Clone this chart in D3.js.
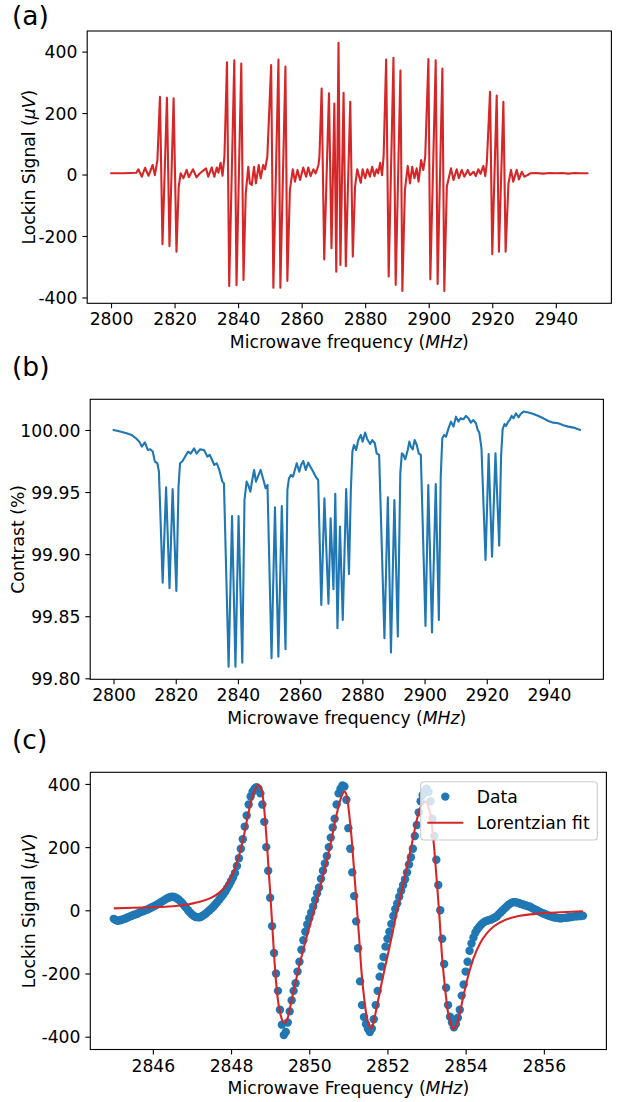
<!DOCTYPE html>
<html><head><meta charset="utf-8">
<script src="https://cdn.jsdelivr.net/npm/d3@7"></script>
<style>
body{margin:0;background:#fff}
svg{display:block}
text{font-family:"DejaVu Sans",sans-serif;fill:#000}
</style>
</head><body>
<svg id="fig" width="618" height="1102"></svg>
<script>
// ---------------- DATA ----------------
// Panel (a): lock-in signal (µV) vs microwave frequency (MHz)
const aSignal = [
 [2800,4],[2802,4],[2804,4],[2806,5],[2808,6],[2808.6,17],[2809.7,-7],[2810.7,22],[2811.8,-4],[2813.1,31],[2813.8,-2],[2814.6,47],
 [2815.4,253],[2816.2,-227],[2817.6,250],[2818.4,-233],[2819.7,248],[2820.6,-251],[2821.3,-40],[2821.9,4],[2822.8,-12],[2823.8,15],
 [2824.5,-9],[2825.8,17],[2826.9,-9],[2828,4],[2829.9,20],[2830.6,-7],[2831.7,23],[2832.5,-7],[2833.3,23],[2833.8,6],[2834.5,38],
 [2835.1,-4],[2835.7,58],[2836.5,365],[2837.2,-363],[2838.8,372],[2839.5,-360],[2841.0,361],[2841.7,-343],[2842.4,-62],[2843.2,25],
 [2843.7,-29],[2844.3,-34],[2845,25],[2845.6,-29],[2846.5,31],[2847.1,-12],[2847.9,31],[2848.5,17],[2849.2,58],[2850.4,356],
 [2851.1,-368],[2852.7,374],[2853.3,-368],[2854.9,351],[2855.5,-346],[2856.3,-51],[2857.2,17],[2857.9,-23],[2858.7,15],[2859.5,-18],
 [2860.5,23],[2861.4,-7],[2862.1,23],[2862.8,-5],[2863.7,17],[2864.4,4],[2865.3,31],[2865.6,58],[2866.3,280],[2867.1,-276],
 [2868.6,264],[2869.4,-240],[2870.3,231],[2870.9,-316],[2871.6,429],[2872.2,-294],[2873.2,266],[2873.9,-298],[2875.3,237],[2876.1,-267],
 [2876.8,-40],[2877.5,17],[2878.6,-27],[2879.2,17],[2880,-12],[2880.7,17],[2881.5,-7],[2882.2,25],[2882.9,-5],[2883.6,17],[2884.1,4],
 [2884.7,38],[2885.3,-2],[2885.8,58],[2886.6,374],[2887.4,-332],[2888.9,380],[2889.6,-359],[2891.1,338],[2891.7,-379],[2892.5,-51],
 [2893.4,28],[2894.1,-29],[2894.8,25],[2895.5,-12],[2896.2,20],[2896.8,-23],[2897.6,47],[2898.3,15],[2898.9,58],[2899.9,376],
 [2900.5,-341],[2902.2,372],[2902.8,-356],[2904.3,345],[2904.9,-379],[2905.7,-40],[2906.4,-7],[2907,20],[2907.8,-18],[2908.8,17],
 [2909.5,-12],[2910.4,15],[2911.2,-7],[2912.3,15],[2913,-2],[2914.1,9],[2914.8,-5],[2915.6,17],[2916.3,2],[2917.2,28],[2917.8,-5],
 [2918.3,40],[2919.3,269],[2920,-259],[2921.4,257],[2922.1,-251],[2923.5,237],[2924.2,-251],[2925.1,-29],[2925.9,15],[2926.6,-23],
 [2927.7,15],[2928.4,-16],[2929.3,9],[2930.1,-7],[2931.1,-2],[2931.9,4],[2934,5],[2936,3],[2938,5],[2940,4],[2942,5],[2944,3],
 [2946,5],[2948,4],[2950,4]
];

// Panel (b): ODMR contrast (%) vs microwave frequency (MHz)
const bContrast = [
 [2800,100.000],[2802.1,99.9987],[2804.2,99.9973],[2805.8,99.996],[2807.2,99.9933],[2808.3,99.9906],[2809.1,99.9866],[2810.1,99.990],
 [2811,99.9839],[2811.8,99.9845],[2812.6,99.9826],[2813.3,99.9745],[2814.1,99.9732],[2814.6,99.9664],[2815.8,99.877],[2816.9,99.9538],
 [2818,99.8725],[2819,99.9525],[2820.2,99.8703],[2820.9,99.955],[2821.4,99.9732],[2822.2,99.975],[2823,99.9785],[2824,99.9826],
 [2824.8,99.981],[2825.9,99.9852],[2826.7,99.981],[2827.8,99.9844],[2829.1,99.9839],[2830.2,99.9785],[2830.9,99.980],[2831.6,99.9764],
 [2832.4,99.9718],[2833.2,99.9732],[2834,99.9678],[2835,99.9584],[2835.5,99.957],[2837,99.8094],[2838.1,99.9307],[2839.2,99.8094],
 [2840.2,99.9307],[2841.4,99.8126],[2842.1,99.9436],[2842.8,99.9584],[2843.4,99.955],[2844,99.9503],[2844.6,99.9597],[2845.2,99.9678],
 [2845.8,99.9584],[2846.5,99.963],[2847.3,99.9678],[2848.2,99.9597],[2848.9,99.953],[2849.5,99.9557],[2850.8,99.8161],[2851.9,99.9377],
 [2853,99.8174],[2854.1,99.9388],[2855.3,99.8234],[2855.9,99.9517],[2856.4,99.961],[2857.1,99.9638],[2857.7,99.9624],[2858.3,99.9678],
 [2858.9,99.9732],[2859.7,99.9664],[2860.3,99.9718],[2861,99.975],[2861.8,99.9678],[2862.6,99.9737],[2863.4,99.970],[2864.2,99.9664],
 [2865.1,99.9619],[2865.8,99.9597],[2866.8,99.859],[2867.8,99.945],[2869.1,99.860],[2869.8,99.9289],[2870.7,99.8717],[2871.3,99.9485],
 [2872,99.8403],[2872.8,99.9222],[2873.7,99.847],[2874.8,99.9525],[2875.7,99.884],[2876.3,99.9517],[2876.8,99.9826],[2877.3,99.9879],
 [2878,99.9839],[2878.7,99.9919],[2879.5,99.996],[2880.1,99.9906],[2880.9,99.9979],[2881.6,99.9925],[2882.5,99.9887],[2883.2,99.9919],
 [2884,99.9893],[2884.6,99.9812],[2885.4,99.9799],[2887.1,99.8322],[2888.2,99.9458],[2889.2,99.8209],[2890.3,99.9436],[2891.4,99.8336],
 [2892.2,99.9651],[2892.7,99.9812],[2893.2,99.980],[2893.8,99.9764],[2894.6,99.9839],[2895.1,99.9906],[2895.6,99.9866],[2896.2,99.9844],
 [2896.8,99.9919],[2897.5,99.9879],[2898.1,99.9812],[2898.8,99.9799],[2900.3,99.8421],[2901.2,99.9557],[2902.4,99.837],[2903.6,99.9565],
 [2904.6,99.847],[2905.2,99.9624],[2905.7,99.9933],[2906.3,99.996],[2906.9,99.9946],[2907.7,100.0013],[2908.5,100.0067],[2909.3,100.0027],
 [2910.1,100.0107],[2910.9,100.0067],[2911.6,100.0094],[2912.5,100.0086],[2913.3,100.0113],[2914.1,100.0094],[2914.9,100.0059],
 [2915.7,100.008],[2916.5,100.0054],[2917.1,100],[2917.6,99.9979],[2918.3,99.9852],[2919.6,99.8953],[2920.6,99.9807],[2921.7,99.898],
 [2922.8,99.9812],[2924,99.9068],[2924.6,99.9785],[2925.1,100.0005],[2925.7,100.0048],[2926.2,100.0032],[2926.9,100.0067],
 [2927.5,100.0086],[2928,100.0113],[2928.6,100.0094],[2929.4,100.0134],[2930.2,100.0102],[2930.9,100.0129],[2931.8,100.0148],
 [2933.4,100.014],[2935,100.0129],[2936.6,100.0113],[2938.2,100.0094],[2939.8,100.0072],[2941.4,100.0059],[2943,100.0054],
 [2944.6,100.0038],[2946.2,100.0027],[2947.9,100.0019],[2950,100.000]
];

// Panel (c): measured lock-in signal, sampled every 0.05 MHz from 2845 MHz
const cStartFreq = 2845, cFreqStep = 0.05;
const cData = [
 -27,-31,-33,-32,-30,-28,-26,-23,-20,-18,
 -15,-13,-11,-8,-5,-3,0,2,5,8,
 11,14,18,21,25,29,33,37,40,42,
 43,42,39,35,29,23,15,8,0,-7,
 -13,-18,-21,-22,-22,-19,-15,-11,-5,0,
 6,12,19,26,34,42,50,59,70,80,
 92,104,118,140,165,195,225,265,300,335,
 360,375,385,390,385,370,335,280,200,125,
 40,-50,-135,-200,-255,-315,-362,-395,-385,-355,
 -320,-285,-255,-231,-194,-163,-125,-95,-68,-45,
 -25,-7,12,33,54,72,100,125,148,172,
 200,230,262,290,335,370,385,395,392,350,
 260,195,120,45,-35,-120,-225,-300,-338,-360,
 -375,-385,-374,-345,-300,-255,-210,-178,-148,-115,
 -90,-68,-43,-18,4,22,43,62,80,98,
 120,145,168,195,235,270,310,345,365,378,
 385,375,345,290,235,160,80,0,-90,-170,
 -245,-300,-337,-355,-370,-360,-340,-315,-270,-235,
 -194,-163,-128,-105,-86,-70,-60,-52,-45,-39,
 -35,-33,-31,-29,-26,-23,-19,-12,-6,0,
 6,12,18,22,25,26,25,23,21,19,
 17,15,13,11,7,4,1,-2,-5,-8,
 -11,-13,-16,-18,-20,-22,-23,-24,-25,-25,
 -24,-24,-23,-22,-21,-20,-19,-19,-18,-18,
 -17
];
// Panel (c): Lorentzian fit curve
const cFit = [
 [2845.0,6],[2845.5,8],[2846.0,9.5],[2846.4,12],[2846.8,17],[2847.2,27],[2847.5,40],[2847.7,56],[2847.85,75],[2848.0,104],
 [2848.15,150],[2848.3,220],[2848.4,281],[2848.5,338],[2848.6,378],[2848.7,396],[2848.75,392],[2848.8,370],[2848.85,318],
 [2848.9,240],[2848.95,150],[2849.0,58],[2849.05,-40],[2849.1,-140],[2849.15,-225],[2849.2,-285],[2849.25,-322],[2849.3,-345],
 [2849.37,-356],[2849.44,-344],[2849.52,-302],[2849.63,-238],[2849.76,-168],[2849.89,-104],[2850.02,-46],[2850.15,12],
 [2850.27,70],[2850.4,133],[2850.53,201],[2850.65,275],[2850.77,339],[2850.85,368],[2850.9,376],[2850.96,362],[2851.02,307],
 [2851.08,233],[2851.14,138],[2851.21,22],[2851.28,-94],[2851.34,-200],[2851.41,-284],[2851.47,-337],[2851.54,-368],
 [2851.58,-374],[2851.64,-358],[2851.72,-310],[2851.85,-231],[2851.98,-157],[2852.11,-83],[2852.23,-10],[2852.36,59],
 [2852.49,133],[2852.62,207],[2852.73,275],[2852.83,322],[2852.92,340],[2852.98,344],[2853.05,328],[2853.13,275],[2853.2,190],
 [2853.26,96],[2853.33,-20],[2853.39,-136],[2853.47,-242],[2853.54,-316],[2853.62,-358],[2853.68,-376],[2853.75,-368],
 [2853.84,-331],[2853.94,-273],[2854.07,-205],[2854.2,-152],[2854.37,-104],[2854.54,-73],[2854.71,-52],[2854.88,-38],
 [2855.13,-25],[2855.39,-17],[2855.73,-12],[2856.07,-8.5],[2856.58,-5.4],[2857.0,-3]
];

// Tick labels
const abFreqTicks = [2800,2820,2840,2860,2880,2900,2920,2940];
const aSignalTicks = [-400,-200,0,200,400];
const bContrastTicks = [99.80,99.85,99.90,99.95,100.00];
const cFreqTicks = [2846,2848,2850,2852,2854,2856];
const cSignalTicks = [-400,-200,0,200,400];
const legendLabels = ["Data","Lorentzian fit"];

// ---------------- DRAW ----------------
const svg = d3.select("#fig");
const FS = 17.2, TICK = 4.9, PAD = 4.9, SPINE = 1.1;
const RED = "#d62728", BLUE = "#1f77b4";

function frame(box, xs, ys, xt, yt, yfmt, xlabel, ylabel, ylabX, tag) {
  const g = svg.append("g");
  const xa = d3.axisBottom(xs).tickValues(xt).tickSize(TICK).tickPadding(PAD).tickFormat(d => String(d));
  const ya = d3.axisLeft(ys).tickValues(yt).tickSize(TICK).tickPadding(PAD).tickFormat(yfmt);
  const gx = g.append("g").attr("transform", `translate(0,${box.b})`).call(xa);
  const gy = g.append("g").attr("transform", `translate(${box.l},0)`).call(ya);
  [gx, gy].forEach(a => {
    a.select(".domain").remove();
    a.selectAll(".tick line").attr("stroke", "#000").attr("stroke-width", SPINE);
    a.selectAll(".tick text").attr("font-size", FS).attr("font-family", "DejaVu Sans").attr("fill", "#000");
  });
  gy.selectAll(".tick text").attr("dy", "0.36em");
  const xl = g.append("text").attr("x", (box.l + box.r) / 2).attr("y", box.b + 44.5)
    .attr("text-anchor", "middle").attr("font-size", FS);
  xl.append("tspan").text(xlabel[0]);
  xl.append("tspan").attr("font-style", "italic").text(xlabel[1]);
  xl.append("tspan").text(xlabel[2]);
  const yl = g.append("text").attr("transform", `translate(${ylabX},${(box.t + box.b) / 2}) rotate(-90)`)
    .attr("text-anchor", "middle").attr("font-size", FS);
  yl.append("tspan").text(ylabel[0]);
  if (ylabel[1]) yl.append("tspan").attr("font-style", "italic").text(ylabel[1]);
  if (ylabel[2]) yl.append("tspan").text(ylabel[2]);
  svg.append("text").attr("x", 12).attr("y", tag.y).attr("font-size", 26.5).text(tag.t);
  return g;
}
function spines(box) {
  svg.append("rect").attr("x", box.l).attr("y", box.t).attr("width", box.r - box.l).attr("height", box.b - box.t)
    .attr("fill", "none").attr("stroke", "#000").attr("stroke-width", SPINE);
}

// ---- Panel (a)
const boxA = {l: 87.2, r: 611.4, t: 31, b: 303.3};
const xA = d3.scaleLinear().domain([2792.5, 2957.5]).range([boxA.l, boxA.r]);
const yA = d3.scaleLinear().domain([-419, 467]).range([boxA.b, boxA.t]);
frame(boxA, xA, yA, abFreqTicks, aSignalTicks, d => String(d),
  ["Microwave frequency (", "MHz", ")"], ["Lockin Signal (", "\u03bcV", ")"], 34.6, {t: "(a)", y: 25});
svg.append("path").datum(aSignal)
  .attr("d", d3.line().x(d => xA(d[0])).y(d => yA(d[1])))
  .attr("fill", "none").attr("stroke", RED).attr("stroke-width", 2.1).attr("stroke-linejoin", "round").attr("stroke-linecap", "round");
spines(boxA);

// ---- Panel (b)
const boxB = {l: 90.2, r: 603.4, t: 399.3, b: 679.3};
const xB = d3.scaleLinear().domain([2792.5, 2957.5]).range([boxB.l, boxB.r]);
const yB = d3.scaleLinear().domain([99.7992, 100.0247]).range([boxB.b, boxB.t]);
frame(boxB, xB, yB, abFreqTicks, bContrastTicks, d3.format(".2f"),
  ["Microwave frequency (", "MHz", ")"], ["Contrast (%)"], 23.8, {t: "(b)", y: 375.5});
svg.append("path").datum(bContrast)
  .attr("d", d3.line().x(d => xB(d[0])).y(d => yB(d[1])))
  .attr("fill", "none").attr("stroke", BLUE).attr("stroke-width", 2.1).attr("stroke-linejoin", "round").attr("stroke-linecap", "round");
spines(boxB);

// ---- Panel (c)
const boxC = {l: 90.3, r: 606.4, t: 772.3, b: 1049.5};
const xC = d3.scaleLinear().domain([2844.4, 2857.6]).range([boxC.l, boxC.r]);
const yC = d3.scaleLinear().domain([-440.6, 436.8]).range([boxC.b, boxC.t]);
frame(boxC, xC, yC, cFreqTicks, cSignalTicks, d => String(d),
  ["Microwave Frequency (", "MHz", ")"], ["Lockin Signal (", "\u03bcV", ")"], 35.2, {t: "(c)", y: 749});
const cPoints = cData.map((v, i) => [cStartFreq + i * cFreqStep, v]);
svg.append("g").selectAll("circle").data(cPoints).join("circle")
  .attr("cx", d => xC(d[0])).attr("cy", d => yC(d[1])).attr("r", 4.2).attr("fill", BLUE);
svg.append("path").datum(cFit)
  .attr("d", d3.line().curve(d3.curveMonotoneX).x(d => xC(d[0])).y(d => yC(d[1])))
  .attr("fill", "none").attr("stroke", RED).attr("stroke-width", 2.1).attr("stroke-linejoin", "round");
const lg = svg.append("g");
lg.append("rect").attr("x", 420.7).attr("y", 781.7).attr("width", 176.6).attr("height", 58.3).attr("rx", 3)
  .attr("fill", "#fff").attr("fill-opacity", 0.8).attr("stroke", "#cccccc").attr("stroke-width", 1.1);
lg.append("circle").attr("cx", 445.3).attr("cy", 796.6).attr("r", 4.2).attr("fill", BLUE);
lg.append("line").attr("x1", 427.3).attr("x2", 463.3).attr("y1", 822.8).attr("y2", 822.8).attr("stroke", RED).attr("stroke-width", 2.1);
lg.selectAll("text.lab").data(legendLabels).join("text").attr("class", "lab")
  .attr("x", 476.7).attr("y", (d, i) => 803 + i * 26.4).attr("font-size", FS).text(d => d);
spines(boxC);
</script>
</body></html>
